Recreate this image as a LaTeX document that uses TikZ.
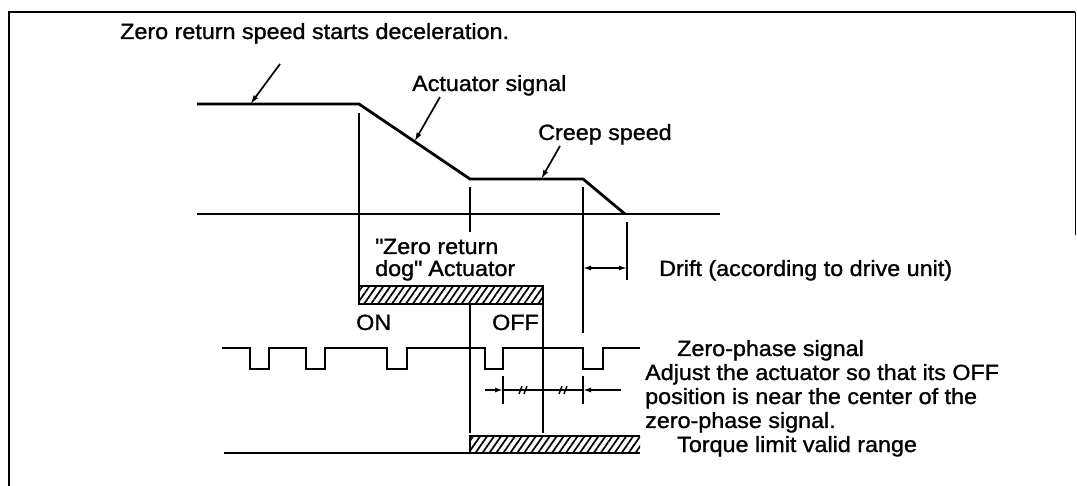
\documentclass[tikz,border=0pt]{standalone}
\usepackage{fontspec}
\setmainfont{Liberation Sans}[FakeStretch=1.06,FakeBold=1.2]
\usetikzlibrary{arrows.meta,calc,patterns.meta}

\tikzset{
  lbl/.style={anchor=base west,inner sep=0pt,align=left,font=\fontsize{22}{23}\selectfont},
  wave/.style={line width=2.8pt,line join=miter},
  guide/.style={line width=1.5pt},
  leader/.style={line width=1.7pt,-{Latex[length=9pt,width=5.5pt]}},
  dimtip/.style={line width=1.5pt,-{Latex[length=8pt,width=5pt]}},
  hatch/.style={pattern={Lines[angle=55,distance=5.7pt,line width=1.7pt]}},
}

\begin{document}
\begin{tikzpicture}[x=1pt,y=-1pt]
  \useasboundingbox (0,0) rectangle (1077,486);
  % frame edge of the scan
  \draw[line width=2.8pt] (9,486) -- (9,12) -- (1075,12);
  \draw[line width=1pt] (1075,12) -- (1075,235);

  % speed curve
  \coordinate (s0) at (197,104);
  \coordinate (s1) at (359,104);
  \coordinate (s2) at (470,179);
  \coordinate (s3) at (583,179);
  \coordinate (s4) at (625,214);
  \coordinate (b0) at (197,214);
  \coordinate (b1) at (720,214);
  \draw[wave] (s0) -- (s1) -- (s2) -- (s3) -- (s4);
  \draw[wave] (b0) -- (b1);

  % labels and leaders
  \node[lbl] (zrs) at (120,39) {Zero return speed starts deceleration.};
  \node[lbl] (acts) at (412,91) {Actuator signal};
  \node[lbl] (creep) at (538,140) {Creep speed};
  \coordinate (l1) at (280,64);
  \coordinate (l2) at (440,97);
  \coordinate (l3) at (560,146);
  \draw[leader] (l1) -- ($(s0)!0.33!(s1)$);
  \draw[leader] (l2) -- ($(s1)!0.5!(s2)$);
  \draw[leader] (l3) -- ($(s2)!0.63!(s3)$);

  % dog actuator
  \coordinate (dogA) at (359,286);
  \coordinate (dogB) at (543,304);
  \draw[hatch] (dogA) rectangle (dogB);
  \draw[line width=2.2pt] (dogA) rectangle (dogB);
  \node[lbl,font=\fontsize{22}{22}\selectfont] (dog) at (375,276)
    {\textquotedbl Zero return\\dog\textquotedbl{} Actuator};
  \node[lbl] (on) at (356,330) {ON};
  \node[lbl,anchor=base east] (off) at (539,330) {OFF};

  % torque limit bar
  \coordinate (tqA) at (470,436);
  \coordinate (tqB) at (640,453);
  \coordinate (tq0) at (224,453);
  \fill[hatch] (tqA) rectangle (tqB);
  \draw[line width=2.6pt] (tq0) -- (tqA |- tqB) -- (tqB);
  \draw[line width=2.2pt] (tqA |- tqB) -- (tqA) -- (tqB |- tqA);

  % guide lines
  \draw[guide] ($(s1)+(0,9)$) -- (dogA);
  \draw[guide] ($(s2)+(0,8)$) -- (470,232);
  \draw[guide] (dogB -| tqA) -- ($(tqA)+(0,-3)$);
  \draw[guide] (dogB) -- ($(tqA -| dogB)+(0,-3)$);
  \draw[guide] ($(s3)+(0,8)$) -- (583,333);
  \draw[guide] ($(s4)+(2,8)$) -- (627,280);

  % drift
  \coordinate (d0) at (583,268);
  \coordinate (d1) at (627,268);
  \draw[line width=1.5pt,{Latex[length=8pt,width=5pt]}-{Latex[length=8pt,width=5pt]}] (d0) -- (d1);
  \node[lbl] (drift) at (659,276) {Drift (according to drive unit)};

  % zero-phase signal
  \draw[line width=2.6pt,line join=miter] (222,348)
    foreach \a/\b in {250/269,306/325,387/407,485/503,583/603} {
      -- (\a,348) -- (\a,369) -- (\b,369) -- (\b,348) }
    -- (640,348);
  \node[lbl] (zps) at (677,356) {Zero-phase signal};

  % OFF position against the pulse
  \coordinate (m0) at (485,390);
  \coordinate (m1) at (503,390);
  \coordinate (m2) at (583,390);
  \coordinate (m3) at (621,390);
  \draw[guide] (503,376) -- (503,404);
  \draw[guide] (583,376) -- (583,404);
  \draw[dimtip] (m0) -- (m1);
  \draw[dimtip] (m3) -- (m2);
  \draw[guide] (m1) -- (m2);
  \foreach \x in {523,563} {
    \draw[line width=1.4pt] (\x-4,394) -- (\x-1,386);
    \draw[line width=1.4pt] (\x+1,394) -- (\x+4,386);
  }
  \node[lbl,font=\fontsize{22}{24}\selectfont] (adj) at (645,428)
    {Adjust the actuator so that its OFF\\position is near the center of the\\zero-phase signal.};
  \node[lbl] (tql) at (677,452) {Torque limit valid range};
\end{tikzpicture}
\end{document}
